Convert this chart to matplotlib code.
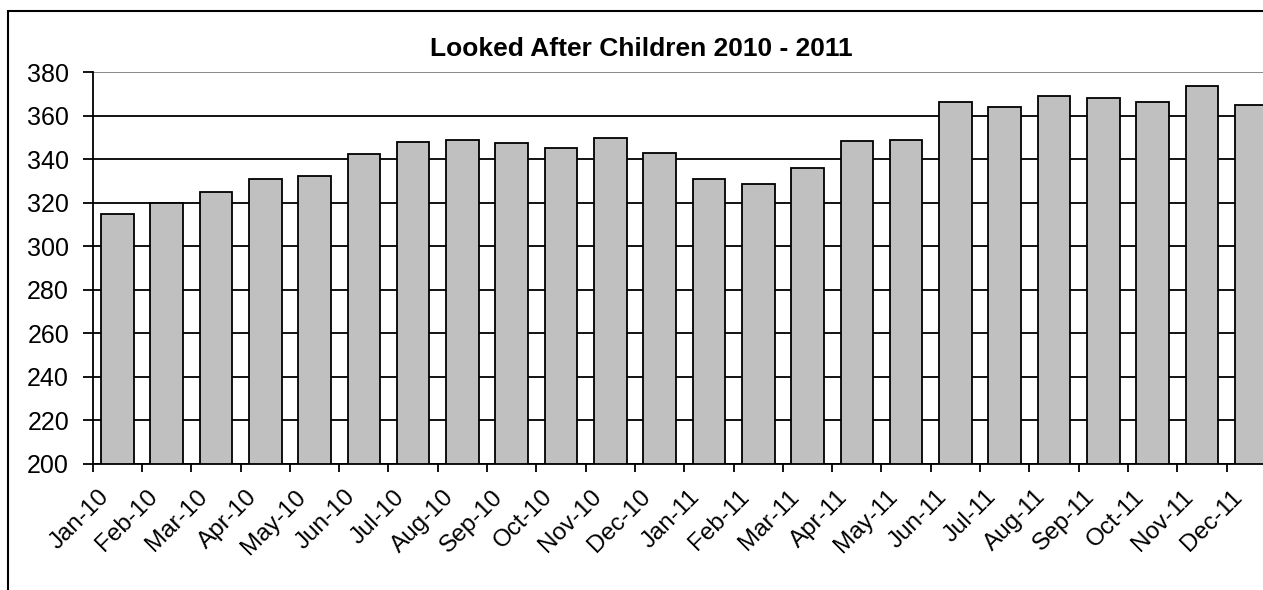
import matplotlib
matplotlib.use('Agg')
import matplotlib.pyplot as plt
import matplotlib.patches as patches
from matplotlib.transforms import ScaledTranslation
import numpy as np

# Data
months = ['Jan-10', 'Feb-10', 'Mar-10', 'Apr-10', 'May-10', 'Jun-10',
          'Jul-10', 'Aug-10', 'Sep-10', 'Oct-10', 'Nov-10', 'Dec-10',
          'Jan-11', 'Feb-11', 'Mar-11', 'Apr-11', 'May-11', 'Jun-11',
          'Jul-11', 'Aug-11', 'Sep-11', 'Oct-11', 'Nov-11', 'Dec-11']
children = [315, 320, 325, 331, 332.5, 342.5, 348, 349, 347.5, 345, 350, 343,
            331, 328.5, 336, 348.5, 349, 366.5, 364, 369, 368, 366.5, 373.5, 365]
y_ticks = list(range(200, 381, 20))

plt.rcParams['font.family'] = ['Liberation Sans', 'DejaVu Sans']

W, H = 1263, 590
fig = plt.figure(figsize=(W / 100, H / 100), dpi=100)

# plot area runs slightly past the right edge, as in the reference
ax = fig.add_axes([92.7 / W, 126.3 / H, (1275.9 - 92.7) / W, (517.7 - 126.3) / H])
ax.set_axisbelow(True)

x = np.arange(len(months))
ax.bar(x, children, width=0.66, color='#C0C0C0', edgecolor='black', linewidth=1.3)

ax.set_xlim(-0.5, len(months) - 0.5)
ax.set_ylim(200, 380)
ax.set_yticks(y_ticks)
ax.yaxis.grid(True, color='black', linewidth=1.3)
ax.get_ygridlines()[-1].set_color('#808080')

for side in ['top', 'right']:
    ax.spines[side].set_visible(False)
for side in ['left', 'bottom']:
    ax.spines[side].set_linewidth(1.3)

ax.tick_params(axis='y', length=7, width=1.3, pad=10, labelsize=18)

# tick marks at category boundaries, labels at category centres
ax.set_xticks(x)
ax.set_xticks(np.arange(-0.5, len(months)), minor=True)
ax.tick_params(axis='x', which='minor', length=6, width=1.3)
ax.tick_params(axis='x', which='major', length=0, pad=21.5)
ax.set_xticklabels(months, rotation=45, ha='right', va='center',
                   rotation_mode='anchor', fontsize=17.5)
shift = ScaledTranslation(-12 / 100, 0, fig.dpi_scale_trans)
for lbl in ax.get_xticklabels():
    lbl.set_transform(lbl.get_transform() + shift)

fig.text(641 / W, 1 - 56 / H, 'Looked After Children 2010 - 2011',
         ha='center', va='baseline', fontsize=19, fontweight='bold')

# outer chart border (cut off at right and bottom)
fig.patches.append(patches.Rectangle((8 / W, -0.1), 1.2, 1.1 - 11 / H,
                                     transform=fig.transFigure, fill=False,
                                     edgecolor='black', linewidth=1.5))

fig.savefig('out.png', dpi=100)
